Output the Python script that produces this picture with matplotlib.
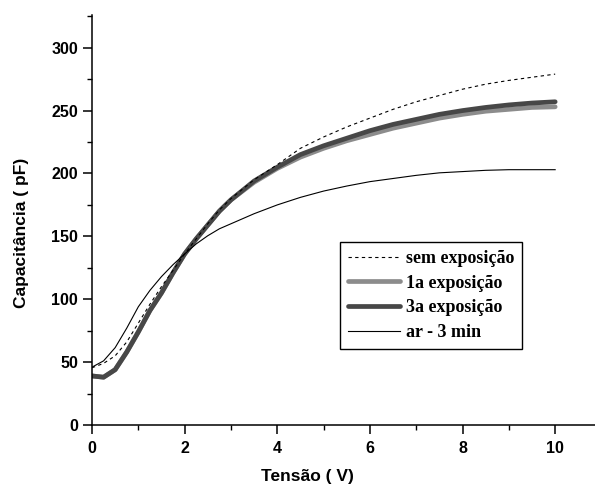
import matplotlib
matplotlib.use("Agg")
import matplotlib.pyplot as plt
from matplotlib.ticker import MultipleLocator

# Data
tensao = [0, 0.25, 0.5, 0.75, 1, 1.25, 1.5, 1.75, 2, 2.25, 2.5, 2.75, 3, 3.5, 4,
          4.5, 5, 5.5, 6, 6.5, 7, 7.5, 8, 8.5, 9, 9.5, 10]
sem_exposicao = [45.5, 49, 55, 66, 81, 96, 110, 123, 136, 148, 160, 171, 180, 195, 207,
                 220, 229, 237, 244, 251, 257, 262, 267, 271, 274, 276.5, 279]
exposicao_1a = [39, 38, 44, 58, 74, 91, 105, 121, 136, 148, 159, 170, 179, 193, 204,
                213, 220, 226, 231, 236, 240, 244, 247, 249.5, 251, 252.5, 253]
exposicao_3a = [39, 38, 44, 58, 74, 91, 105, 121, 136, 148, 159, 170, 179, 194, 205,
                215, 222, 228, 234, 239, 243, 247, 250, 252.5, 254.5, 256, 257]
ar_3min = [46, 51, 61.5, 77, 94, 107, 118, 127.5, 136, 144, 150.5, 156, 160, 168, 175,
           181, 186, 190, 193.5, 196, 198.5, 200.5, 201.5, 202.5, 203, 203, 203]

labels = ["sem exposição", "1a exposição", "3a exposição", "ar - 3 min"]

W, H = 595, 491
fig = plt.figure(figsize=(W / 100, H / 100), dpi=100)
ax = fig.add_axes([92 / W, 1 - 425 / H, (595 - 92) / W, (425 - 15) / H])

l1, = ax.plot(tensao, exposicao_1a, color="#8c8c8c", lw=3.4,
              solid_capstyle="round", solid_joinstyle="round")
l3, = ax.plot(tensao, exposicao_3a, color="#474747", lw=3.4,
              solid_capstyle="round", solid_joinstyle="round")
l0, = ax.plot(tensao, sem_exposicao, color="black", lw=0.8, ls=(0, (3, 3)))
l4, = ax.plot(tensao, ar_3min, color="black", lw=0.8)

ax.set_xlim(0, 10.86)
ax.set_ylim(0, 326)
ax.spines["top"].set_visible(False)
ax.spines["right"].set_visible(False)
for s in ("left", "bottom"):
    ax.spines[s].set_linewidth(1.1)

ax.xaxis.set_major_locator(MultipleLocator(2))
ax.xaxis.set_minor_locator(MultipleLocator(1))
ax.yaxis.set_major_locator(MultipleLocator(50))
ax.yaxis.set_minor_locator(MultipleLocator(25))
ax.tick_params(which="major", direction="out", length=6.5, width=1.1)
ax.tick_params(which="minor", direction="out", length=3.5, width=1.0)
ax.tick_params(axis="x", pad=5)
ax.tick_params(axis="y", pad=3.5)
for t in ax.get_xticklabels() + ax.get_yticklabels():
    t.set_fontfamily("Liberation Sans")
    t.set_fontweight("bold")
    t.set_fontsize(11.5)

fig.text(307 / W, 1 - 477 / H, "Tensão ( V)", ha="center", va="center",
         fontfamily="Liberation Sans", fontweight="bold", fontsize=12.5)
fig.text(22 / W, 1 - 233 / H, "Capacitância ( pF)", ha="center", va="center",
         rotation=90, fontfamily="Liberation Sans", fontweight="bold", fontsize=12.5)

leg = ax.legend([l0, l1, l3, l4], labels, loc="lower left",
                bbox_to_anchor=((340 - 92) / 503, (425 - 349) / 410),
                prop={"family": "Liberation Serif", "weight": "bold", "size": 13},
                frameon=True, fancybox=False, framealpha=1, edgecolor="black",
                handlelength=2.9, handletextpad=0.3, labelspacing=0.42,
                borderpad=0.45, borderaxespad=0)
leg.get_frame().set_linewidth(1.0)

fig.savefig("out.png", dpi=100)
